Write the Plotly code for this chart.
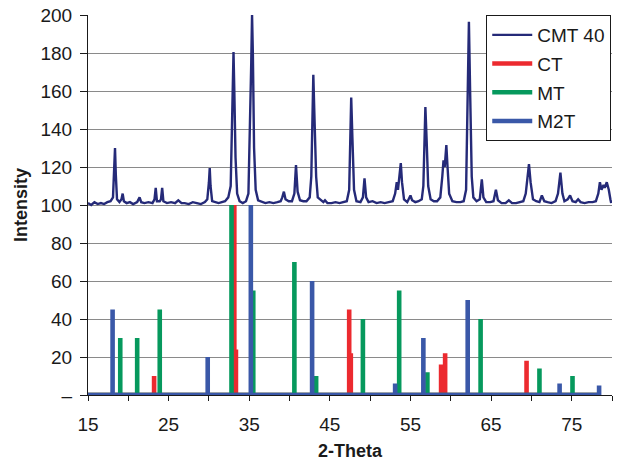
import plotly.graph_objects as go

# ---- CMT 40 measured pattern (2-theta, intensity) ----
cmt_x = [15.0, 15.4, 15.8, 16.2, 16.6, 17.0, 17.4, 17.8, 18.1, 18.25, 18.35, 18.45, 18.6, 18.9, 19.15, 19.3, 19.45,
         19.8, 20.2, 20.6, 21.1, 21.4, 21.6, 22.0, 22.5, 23.0, 23.25, 23.4, 23.55, 23.9, 24.05, 24.2, 24.35, 24.8,
         25.3, 25.8, 26.2, 26.6, 27.0, 27.5, 28.0, 28.5, 29.0, 29.5, 29.8, 30.0, 30.1, 30.2, 30.4, 30.8, 31.2, 31.6,
         32.0, 32.4, 32.7, 32.85, 32.95, 33.05, 33.15, 33.3, 33.5, 33.8, 34.2, 34.6, 34.9, 35.1, 35.25, 35.35, 35.45,
         35.6, 35.8, 36.1, 36.5, 37.0, 37.5, 38.0, 38.5, 38.9, 39.1, 39.3, 39.5, 39.9, 40.3, 40.6, 40.8, 41.0, 41.3,
         41.7, 42.1, 42.5, 42.7, 42.85, 42.95, 43.1, 43.3, 43.5, 43.9, 44.2, 44.4, 44.7, 45.2, 45.7, 46.2, 46.7, 47.1,
         47.4, 47.55, 47.65, 47.8, 48.0, 48.3, 48.8, 49.1, 49.3, 49.5, 49.8, 50.3, 50.8, 51.3, 51.8, 52.3, 52.8, 53.1,
         53.3, 53.45, 53.65, 53.8, 53.95, 54.2, 54.6, 55.0, 55.2, 55.6, 56.0, 56.4, 56.6, 56.75, 56.85, 57.0, 57.2,
         57.5, 57.9, 58.3, 58.7, 58.95, 59.1, 59.25, 59.45, 59.6, 59.8, 60.2, 60.7, 61.2, 61.6, 61.9, 62.1, 62.25,
         62.4, 62.6, 62.8, 63.2, 63.6, 63.85, 64.05, 64.4, 64.9, 65.3, 65.6, 65.85, 66.3, 66.8, 67.2, 67.6, 68.1,
         68.6, 69.0, 69.3, 69.55, 69.7, 69.9, 70.2, 70.6, 71.0, 71.3, 71.6, 72.0, 72.5, 73.0, 73.3, 73.6, 73.85, 74.1,
         74.5, 74.8, 75.1, 75.5, 75.8, 76.1, 76.6, 77.1, 77.6, 78.0, 78.3, 78.5, 78.7, 78.95, 79.1, 79.35, 79.6,
         79.8, 79.9]
cmt_y = [101, 100, 101.5, 100.5, 101, 100.5, 101.5, 102, 104, 118, 130, 116, 103, 101.5, 103, 106, 102,
         101, 101.5, 100.5, 101.5, 104, 101.5, 101, 101.5, 101, 103, 109, 102, 102, 103, 109, 102, 101,
         101.5, 101, 102.5, 101, 101, 100.5, 101.5, 101, 100.5, 101.5, 103, 112, 119.5, 110, 102, 101.5, 101, 101.5,
         102, 104, 110, 140, 155, 180.5, 160, 125, 106, 102, 101, 102, 106, 140, 175, 200, 180,
         130, 108, 102.5, 102, 101, 101.5, 101, 101.5, 102, 104, 107, 103, 102, 102, 106, 121, 107, 102.5,
         102, 102, 104, 115, 140, 168.5, 145, 115, 104, 102.5, 101.5, 102.5, 101, 101, 101.5, 101, 101.5, 102,
         108, 135, 156.5, 135, 108, 102, 101.5, 104, 114, 104, 101.5, 102, 101, 101.5, 101, 101.5, 102, 106,
         112, 108, 116, 122, 112, 103, 101.5, 105, 102.5, 101.5, 102, 103, 110, 135, 151.5, 135, 110,
         103, 102, 102, 104, 115, 123.5, 120, 131.5, 120, 106, 102, 101.5, 101.5, 102, 108, 150, 196.5,
         160, 115, 104, 102, 103, 113.5, 104, 101.5, 101.5, 102, 108, 102.5, 101, 101, 102.5, 101, 101,
         101.5, 102, 106, 116, 121.5, 112, 103, 102, 101.5, 105, 102, 101.5, 101, 102, 106, 117, 106, 102,
         103, 105, 102, 101.5, 103, 101.5, 101, 101.5, 101.5, 102, 106, 112, 108, 110.5, 109, 112, 108,
         103, 101]

# ---- Reference patterns: peak positions and relative intensities ----
ct_pos = [23.2, 33.15, 33.35, 47.4, 47.6, 58.8, 59.3, 69.4]
ct_int = [10, 100, 24, 45, 22, 16, 22, 18]

mt_pos = [19.0, 21.1, 23.9, 32.8, 35.5, 40.6, 43.3, 49.1, 53.6, 57.1, 63.7, 71.0, 75.1]
mt_int = [30, 30, 45, 100, 55, 70, 10, 40, 55, 12, 40, 14, 10]

m2t_pos = [18.05, 29.85, 35.2, 42.8, 53.1, 56.6, 62.1, 73.5, 78.4]
m2t_int = [45, 20, 100, 60, 6, 30, 50, 6, 5]

x_start, x_end = 15.0, 78.6

y_ticks = [0, 20, 40, 60, 80, 100, 120, 140, 160, 180, 200]
y_labels = ["–", "20", "40", "60", "80", "100", "120", "140", "160", "180", "200"]
x_ticks = [15, 20, 25, 30, 35, 40, 45, 50, 55, 60, 65, 70, 75, 80]
x_labels = ["15", "", "25", "", "35", "", "45", "", "55", "", "65", "", "75", ""]


def stick_series(pos, inten):
    xs, ys = [x_start], [0]
    for p, h in zip(pos, inten):
        xs += [p, p, p]
        ys += [0, h, 0]
    xs.append(x_end)
    ys.append(0)
    return xs, ys


fig = go.Figure()
fig.add_trace(go.Scatter(x=cmt_x, y=cmt_y, mode="lines", name="CMT 40",
                         line=dict(color="#252a78", width=2.4), legendgroup="a"))
for name, pos, inten, col, grp in [("CT", ct_pos, ct_int, "#ec2a2f", "b"),
                                   ("MT", mt_pos, mt_int, "#06995d", "c"),
                                   ("M2T", m2t_pos, m2t_int, "#3a58a8", "d")]:
    xs, ys = stick_series(pos, inten)
    fig.add_trace(go.Scatter(x=xs, y=ys, mode="lines", name=name, legendgroup=grp,
                             line=dict(color=col, width=4.6)))

fnt = "Liberation Sans, Arial, sans-serif"
fig.update_layout(
    width=623, height=464,
    margin=dict(l=88, r=11, t=15, b=69, autoexpand=False),
    paper_bgcolor="white", plot_bgcolor="white",
    font=dict(family=fnt, size=19, color="#1a1a1a"),
    showlegend=True,
    legend=dict(x=0.76, y=1.0, xanchor="left", yanchor="top",
                bgcolor="white", bordercolor="#1a1a1a", borderwidth=1,
                font=dict(size=19), tracegroupgap=1, itemwidth=40),
    xaxis=dict(range=[15, 80], tickvals=x_ticks, ticktext=x_labels, showgrid=False,
               showline=True, linecolor="#1a1a1a", linewidth=1, ticks="outside",
               ticklen=5, tickcolor="#1a1a1a", zeroline=False, ticklabelstandoff=7,
               automargin=False,
               title=dict(text="<b>2-Theta</b>", font=dict(size=18), standoff=10)),
    yaxis=dict(range=[0, 200], tickvals=y_ticks, ticktext=y_labels, showgrid=True,
               gridcolor="#8a8a8a", gridwidth=1.3, showline=True, linecolor="#1a1a1a",
               linewidth=1, ticks="outside", ticklen=7, tickcolor="#1a1a1a", zeroline=False,
               ticklabelstandoff=4, automargin=False,
               title=dict(text="<b>Intensity</b>", font=dict(size=18), standoff=8)),
)
fig.write_html("out.html")
